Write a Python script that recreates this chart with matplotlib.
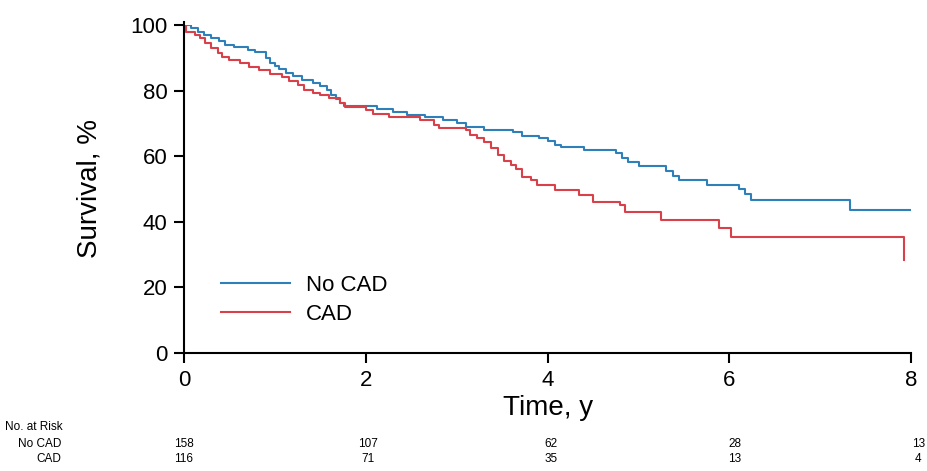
import matplotlib.pyplot as plt

plt.rcParams['font.family'] = ['Liberation Sans', 'DejaVu Sans']

# Kaplan-Meier steps (time in years, survival %)
noCadT = [0, 0.08, 0.15, 0.22, 0.3, 0.38, 0.45, 0.55, 0.7, 0.78, 0.9, 0.95, 1.0, 1.05,
          1.12, 1.2, 1.3, 1.42, 1.5, 1.57, 1.62, 1.67, 1.72, 1.76, 2.12, 2.3, 2.45, 2.65,
          2.85, 3.0, 3.1, 3.3, 3.62, 3.72, 3.9, 4.0, 4.08, 4.15, 4.4, 4.75, 4.82, 4.88,
          5.0, 5.3, 5.38, 5.45, 5.75, 6.1, 6.17, 6.24, 7.33, 7.99]
noCadS = [100, 99, 98, 97, 96, 95, 94, 93.3, 92.5, 91.8, 90, 88.5, 87.5, 86.5,
          85.5, 84.3, 83.3, 82.3, 81.3, 80.2, 78.8, 77.5, 76.2, 75.2, 74.5, 73.5, 72.5, 72,
          71, 70.2, 68.8, 68, 67.3, 66.2, 65.5, 64.5, 63.5, 62.8, 62, 61, 59.5, 58.2,
          57, 55.5, 54, 52.7, 51.2, 50, 48.5, 46.5, 43.6, 43.6]

cadT = [0, 0.02, 0.12, 0.18, 0.23, 0.3, 0.37, 0.42, 0.5, 0.62, 0.72, 0.82, 0.95, 1.08,
        1.15, 1.25, 1.32, 1.42, 1.5, 1.6, 1.72, 1.77, 2.0, 2.08, 2.25, 2.6, 2.75, 2.8,
        3.1, 3.15, 3.22, 3.3, 3.38, 3.45, 3.52, 3.6, 3.65, 3.72, 3.82, 3.88, 4.08, 4.35,
        4.5, 4.8, 4.85, 5.25, 5.88, 6.02, 7.92, 7.92]
cadS = [100, 98, 97, 96, 94.5, 93, 91.5, 90.2, 89.3, 88.3, 87.3, 86.3, 85, 84,
        83, 81.8, 80.3, 79.2, 78.5, 77.7, 76.2, 75, 74, 73, 72, 71, 69.5, 68.6,
        68, 66.5, 65.5, 64.3, 62.5, 60.5, 58.5, 57.2, 56, 53.8, 52.7, 51.2, 49.7, 48.2,
        46, 45, 43, 40.5, 38.1, 35.4, 35.4, 28.4]

riskTimes = [0, 2, 4, 6, 8]
riskNoCad = [158, 107, 62, 28, 13]
riskCad = [116, 71, 35, 13, 4]

fig = plt.figure(figsize=(9.27, 4.71), dpi=100)
ax = fig.add_axes([0.1985, 0.2505, 0.7845, 0.6965])

ax.step(noCadT, noCadS, where='post', color='#2f80b8', lw=1.5, label='No CAD')
ax.step(cadT, cadS, where='post', color='#d8404a', lw=1.5, label='CAD')

ax.set_xlim(0, 8)
ax.set_ylim(0, 100)
ax.set_xticks([0, 2, 4, 6, 8])
ax.set_yticks([0, 20, 40, 60, 80, 100])
ax.tick_params(labelsize=16, width=1.5, length=7, direction='out', pad=5)
for s in ['top', 'right']:
    ax.spines[s].set_visible(False)
for s in ['left', 'bottom']:
    ax.spines[s].set_linewidth(1.5)
ax.spines['left'].set_bounds(0, 101)

ax.set_xlabel('Time, y', fontsize=20, labelpad=3)
ax.set_ylabel('Survival, %', fontsize=20, labelpad=20)

ax.legend(loc='lower left', bbox_to_anchor=(0.024, 0.025), frameon=False,
          fontsize=16, handlelength=3.1, handletextpad=0.7, labelspacing=0.35)

# number at risk table
fig.text(0.068, 0.093, 'No. at Risk', fontsize=8.5, ha='right', va='center')
fig.text(0.066, 0.057, 'No CAD', fontsize=8.5, ha='right', va='center')
fig.text(0.066, 0.025, 'CAD', fontsize=8.5, ha='right', va='center')
for t, a, b in zip(riskTimes, riskNoCad, riskCad):
    xf = (184 + t * 91.8) / 927
    fig.text(xf, 0.057, str(a), fontsize=8.5, ha='center', va='center')
    fig.text(xf, 0.025, str(b), fontsize=8.5, ha='center', va='center')

fig.savefig('out.png', dpi=100)
